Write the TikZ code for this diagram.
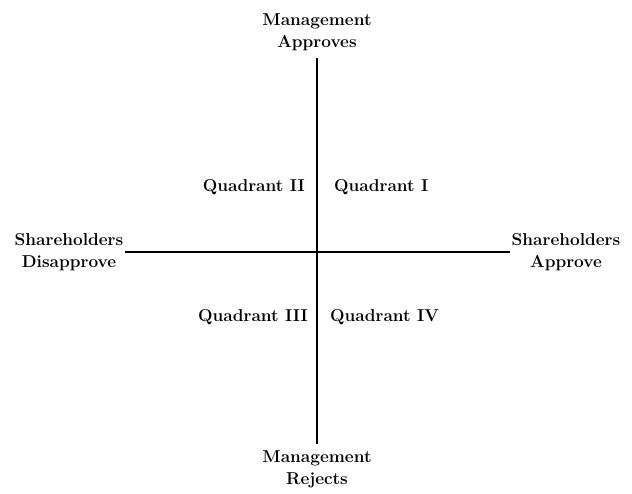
\documentclass[tikz,border=0pt]{standalone}
\usepackage{tikz}
\usetikzlibrary{positioning}

\begin{document}
\begin{tikzpicture}[
  x=1pt, y=-1pt,
  axislbl/.style={align=center, font=\fontsize{17.2}{22}\selectfont\bfseries,
                  inner sep=2pt},
  quadlbl/.style={font=\fontsize{17.2}{20}\selectfont\bfseries, inner sep=0pt},
  axis/.style={line width=1.3pt, black},
]
\useasboundingbox (0,0) rectangle (632,494);

%% Ends of the two axes
\node[axislbl] (MA) at (317,32)  {Management\\Approves};
\node[axislbl] (MR) at (317,469) {Management\\Rejects};
\node[axislbl] (SD) at (69,252)  {Shareholders\\Disapprove};
\node[axislbl] (SA) at (566,252) {Shareholders\\Approve};

%% Axes
\draw[axis, shorten <=5pt, shorten >=4pt] (MA.south) -- (MR.north);
\draw[axis] (SD.east) -- (SA.west);

%% Quadrant names
\node[quadlbl, anchor=east] (Q2) at (305,187) {Quadrant II};
\node[quadlbl, anchor=west] (Q1) at (334,187) {Quadrant I};
\node[quadlbl, anchor=east] (Q3) at (308,317) {Quadrant III};
\node[quadlbl, anchor=west] (Q4) at (330,317) {Quadrant IV};

\end{tikzpicture}
\end{document}
